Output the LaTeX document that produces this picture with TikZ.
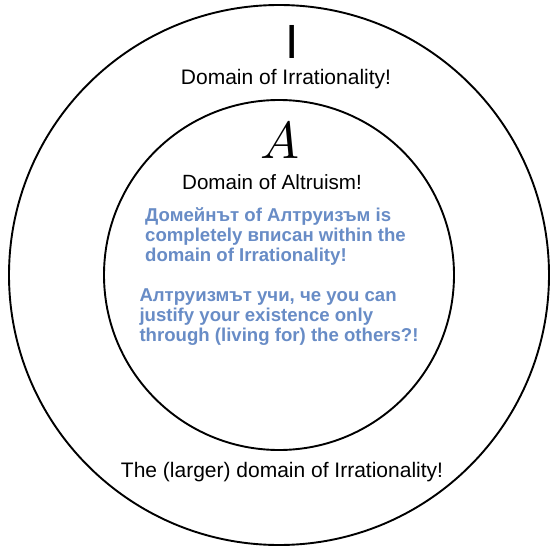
\documentclass[tikz,border=0pt]{standalone}
\usepackage{fontspec}
\setmainfont{Liberation Sans}
\definecolor{bluetext}{RGB}{104,140,198}
\begin{document}
\begin{tikzpicture}[x=1pt,y=-1pt,
  ring/.style={draw=black,line width=1.9pt},
  heading/.style={inner sep=0pt,anchor=base,font=\fontsize{21}{24}\selectfont},
  blueline/.style={inner sep=0pt,anchor=base west,text=bluetext,font=\fontsize{18.6}{20}\selectfont\bfseries}]
\useasboundingbox[fill=white] (0,0) rectangle (560,554);
\draw[ring] (279,275) circle[radius=270pt];
\draw[ring] (279,275) circle[radius=175pt];
\node[inner sep=0pt,anchor=base,font=\fontsize{48}{50}\selectfont] (I) at (292,58.3) {I};
\node[heading] (dirr) at (286,84) {Domain of Irrationality!};
\node[inner sep=0pt,anchor=base,scale=5.2] (A) at (280,158.5) {$A$};
\node[heading,font=\fontsize{20.6}{24}\selectfont] (dalt) at (272,189) {Domain of Altruism!};
\node[blueline] (p1a) at (145,221.7) {Домейнът of Алтруизъм is};
\node[blueline] (p1b) at (145,241.7) {completely вписан within the};
\node[blueline] (p1c) at (145,261.7) {domain of Irrationality!};
\node[blueline] (p2a) at (139.3,301) {Алтруизмът учи, че you can};
\node[blueline] (p2b) at (139.3,321) {justify your existence only};
\node[blueline] (p2c) at (139.3,341.5) {through (living for) the others?!};
\node[heading] (larger) at (282,477.5) {The (larger) domain of Irrationality!};
\end{tikzpicture}
\end{document}
